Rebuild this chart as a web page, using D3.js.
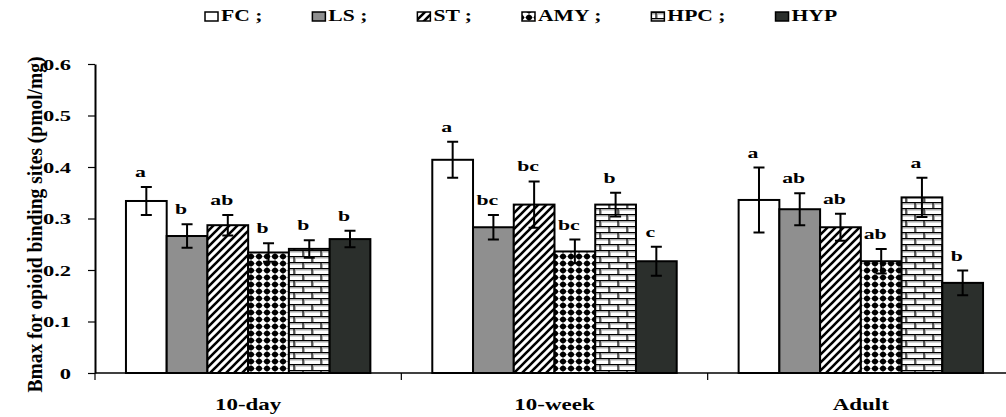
<!DOCTYPE html>
<html>
<head>
<meta charset="utf-8">
<script src="https://cdn.jsdelivr.net/npm/d3@7"></script>
<style>
  body { margin: 0; background: #fff; }
  svg text { font-family: "Liberation Serif", "Times New Roman", serif; font-weight: bold; fill: #000; }
</style>
</head>
<body>
<div id="chart"></div>
<script>
// ---------- data
const groups = ["10-day", "10-week", "Adult"]
const regions = ["FC", "LS", "ST", "AMY", "HPC", "HYP"]

const means10day = [0.334, 0.266, 0.287, 0.234, 0.241, 0.260]
const means10week = [0.414, 0.283, 0.327, 0.236, 0.327, 0.217]
const meansAdult = [0.336, 0.318, 0.283, 0.217, 0.341, 0.175]

const errs10day = [0.027, 0.023, 0.020, 0.018, 0.017, 0.016]
const errs10week = [0.035, 0.024, 0.045, 0.023, 0.023, 0.028]
const errsAdult = [0.063, 0.031, 0.026, 0.024, 0.038, 0.024]

const letters10day = ["a", "b", "ab", "b", "b", "b"]
const letters10week = ["a", "bc", "bc", "bc", "b", "c"]
const lettersAdult = ["a", "ab", "ab", "ab", "a", "b"]

const yTicks = [0, 0.1, 0.2, 0.3, 0.4, 0.5, 0.6]
const yTitle = "Bmax  for opioid binding sites (pmol/mg)"

const meansByGroup = [means10day, means10week, meansAdult]
const errsByGroup = [errs10day, errs10week, errsAdult]
const lettersByGroup = [letters10day, letters10week, lettersAdult]

const rows = []
groups.forEach((g, gi) => {
    regions.forEach((r, ri) => {
        rows.push({
            group: g,
            region: r,
            value: meansByGroup[gi][ri],
            err: errsByGroup[gi][ri],
            letter: lettersByGroup[gi][ri]
        })
    })
})

// ---------- dimensions
const dims = {
    width: 1006,
    height: 417,
    margin: { top: 64, right: -8, bottom: 44, left: 95 }
}
dims.boundedWidth = dims.width - dims.margin.left - dims.margin.right
dims.boundedHeight = dims.height - dims.margin.top - dims.margin.bottom

const svg = d3.select("#chart").append("svg")
    .attr("width", dims.width)
    .attr("height", dims.height)

// text in the picture is drawn wide and squat, so stretch it sideways
const wide = (x, y, s) => `translate(${x},${y}) scale(${s},1)`

// ---------- fill patterns
const defs = svg.append("defs")

const diag = defs.append("pattern").attr("id", "pat-ST")
    .attr("patternUnits", "userSpaceOnUse").attr("width", 8).attr("height", 8)
diag.append("rect").attr("width", 8).attr("height", 8).attr("fill", "#fff")
diag.append("path").attr("d", "M-2,2 L2,-2 M0,8 L8,0 M6,10 L10,6")
    .attr("stroke", "#000").attr("stroke-width", 2.6)

const dots = defs.append("pattern").attr("id", "pat-AMY")
    .attr("patternUnits", "userSpaceOnUse").attr("width", 8).attr("height", 7)
dots.append("rect").attr("width", 8).attr("height", 7).attr("fill", "#fff")
dots.append("path")
    .attr("d", "M4,0.2 L6.2,1.4 L7.6,3.5 L6.2,5.6 L4,6.8 L1.8,5.6 L0.4,3.5 L1.8,1.4Z")
    .attr("fill", "#000")

const brick = defs.append("pattern").attr("id", "pat-HPC")
    .attr("patternUnits", "userSpaceOnUse").attr("width", 18).attr("height", 12)
brick.append("rect").attr("width", 18).attr("height", 12).attr("fill", "#fff")
brick.append("path").attr("d", "M0,1.7 H18 M0,7.7 H18 M2.2,0 V6 M11.2,6 V12")
    .attr("stroke", "#a8a8a8").attr("stroke-width", 1.4)
brick.append("path").attr("d", "M0,0.5 H18 M0,6.5 H18 M1,0 V6 M10,6 V12")
    .attr("stroke", "#000").attr("stroke-width", 1.2)

const fills = {
    FC: "#ffffff",
    LS: "#8f8f8f",
    ST: "url(#pat-ST)",
    AMY: "url(#pat-AMY)",
    HPC: "url(#pat-HPC)",
    HYP: "#2b2f2c"
}

// ---------- scales
const bounds = svg.append("g")
    .attr("transform", `translate(${dims.margin.left},${dims.margin.top})`)

const xGroup = d3.scaleBand()
    .domain(groups)
    .range([0, dims.boundedWidth])
    .padding(0)

const xRegion = d3.scaleBand()
    .domain(regions)
    .range([0, xGroup.bandwidth()])
    .paddingInner(0)
    .paddingOuter(0.76)

const yScale = d3.scaleLinear()
    .domain([0, 0.6])
    .range([dims.boundedHeight, 0])

// ---------- axes
const yAxisGenerator = d3.axisLeft(yScale)
    .tickValues(yTicks)
    .tickFormat(d => d === 0 ? "0" : d3.format(".1f")(d))
    .tickSize(7)
    .tickSizeOuter(0)
    .tickPadding(17)

const yAxis = bounds.append("g").call(yAxisGenerator)
yAxis.select(".domain").attr("stroke-width", 2)
yAxis.selectAll(".tick line").attr("stroke-width", 1.2)
yAxis.selectAll(".tick text")
    .attr("font-size", 15)
    .attr("font-family", null)
    .each(function () {
        const t = d3.select(this)
        const x = +t.attr("x")
        t.attr("x", null).attr("dy", null)
            .attr("transform", wide(x, 5, 1.5))
    })

// bottom axis line + boundary ticks
const xEdges = groups.map(g => xGroup(g)).concat([dims.boundedWidth])
bounds.append("line")
    .attr("x1", 0).attr("x2", dims.boundedWidth)
    .attr("y1", yScale(0)).attr("y2", yScale(0))
    .attr("stroke", "#000").attr("stroke-width", 1.5)
bounds.selectAll(".xtick")
    .data(xEdges)
    .join("line")
    .attr("class", "xtick")
    .attr("x1", d => d).attr("x2", d => d)
    .attr("y1", yScale(0)).attr("y2", yScale(0) + 7)
    .attr("stroke", "#000").attr("stroke-width", 1.2)

bounds.selectAll(".xlabel")
    .data(groups)
    .join("text")
    .attr("class", "xlabel")
    .attr("text-anchor", "middle")
    .attr("font-size", 17)
    .attr("transform", d => wide(xGroup(d) + xGroup.bandwidth() / 2, yScale(0) + 37, 1.35))
    .text(d => d)

// y title
svg.append("text")
    .attr("text-anchor", "middle")
    .attr("font-size", 20)
    .attr("textLength", 336)
    .attr("lengthAdjust", "spacingAndGlyphs")
    .attr("transform", `translate(42,${dims.margin.top + dims.boundedHeight / 2 + 6}) rotate(-90)`)
    .text(yTitle)

// ---------- bars
const barX = d => xGroup(d.group) + xRegion(d.region)
const bw = xRegion.bandwidth()

bounds.selectAll(".bar")
    .data(rows)
    .join("rect")
    .attr("class", "bar")
    .attr("x", barX)
    .attr("width", bw)
    .attr("y", d => yScale(d.value))
    .attr("height", d => yScale(0) - yScale(d.value))
    .attr("fill", d => fills[d.region])
    .attr("stroke", "#000")
    .attr("stroke-width", 2)

// error bars
const cap = 5.5
bounds.selectAll(".err")
    .data(rows)
    .join("path")
    .attr("class", "err")
    .attr("d", d => {
        const cx = barX(d) + bw / 2
        const y1 = yScale(d.value + d.err)
        const y2 = yScale(d.value - d.err)
        return `M${cx},${y1}V${y2}M${cx - cap},${y1}H${cx + cap}M${cx - cap},${y2}H${cx + cap}`
    })
    .attr("fill", "none")
    .attr("stroke", "#000")
    .attr("stroke-width", 2)

// significance letters
bounds.selectAll(".letter")
    .data(rows)
    .join("text")
    .attr("class", "letter")
    .attr("text-anchor", "middle")
    .attr("font-size", 15)
    .attr("transform", d => wide(barX(d) + bw / 2 - 6, yScale(d.value + d.err) - 10, 1.45))
    .text(d => d.letter)

// ---------- legend
const legend = svg.append("g").attr("transform", "translate(205,0)")
const legendStretch = 1.35
let lx = 0
regions.forEach(r => {
    legend.append("rect")
        .attr("x", lx).attr("y", 12)
        .attr("width", 13).attr("height", 9)
        .attr("fill", fills[r])
        .attr("stroke", "#000").attr("stroke-width", 1.5)
    const label = r === "HYP" ? r : r + " ;"
    const t = legend.append("text")
        .attr("font-size", 16)
        .attr("transform", wide(lx + 16, 21, legendStretch))
        .text(label)
    const w = t.node().getBBox().width * legendStretch
    lx += 16 + w + 50
})
</script>
</body>
</html>
